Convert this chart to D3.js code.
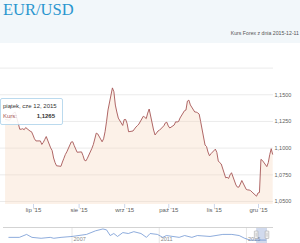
<!DOCTYPE html>
<html>
<head>
<meta charset="utf-8">
<script src="https://cdn.jsdelivr.net/npm/d3@7"></script>
<style>
  body { margin: 0; background: #fff; }
  svg { display: block; font-family: "Liberation Sans", Arial, sans-serif; }
</style>
</head>
<body>
<div id="chart"></div>
<script>
// kurs dzienny EUR/USD, 2015
const dates = [
  "06-12","06-15","06-16","06-17","06-18","06-19","06-22","06-23","06-24","06-25","06-26","06-29","06-30",
  "07-01","07-02","07-03","07-06","07-07","07-08","07-09","07-10","07-13","07-14","07-15","07-16","07-17",
  "07-20","07-21","07-22","07-23","07-24","07-27","07-28","07-29","07-30","07-31",
  "08-03","08-04","08-05","08-06","08-07","08-10","08-11","08-12","08-13","08-14","08-17","08-18","08-19",
  "08-20","08-21","08-24","08-25","08-26","08-27","08-28","08-31",
  "09-01","09-02","09-03","09-04","09-07","09-08","09-09","09-10","09-11","09-14","09-15","09-16","09-17",
  "09-18","09-21","09-22","09-23","09-24","09-25","09-28","09-29","09-30",
  "10-01","10-02","10-05","10-06","10-07","10-08","10-09","10-12","10-13","10-14","10-15","10-16","10-19",
  "10-20","10-21","10-22","10-23","10-26","10-27","10-28","10-29","10-30",
  "11-02","11-03","11-04","11-05","11-06","11-09","11-10","11-11","11-12","11-13","11-16","11-17","11-18",
  "11-19","11-20","11-23","11-24","11-25","11-26","11-27","11-30",
  "12-01","12-02","12-03","12-04","12-07","12-08","12-09","12-10","12-11"
];
const kurs = [
  1.1265,1.1257,1.1275,1.1310,1.1328,1.1332,1.1172,1.1173,1.1177,1.1168,1.1188,1.1155,1.1149,
  1.1118,1.1083,1.1063,1.1063,1.1030,1.1049,1.1077,1.1104,1.0998,1.0973,1.0903,1.0860,1.0830,
  1.0825,1.0865,1.0900,1.0936,1.0961,1.1053,1.1055,1.1020,1.0988,1.0957,
  1.0960,1.0926,1.0882,1.0876,1.0901,1.0992,1.1028,1.1081,1.1136,1.1129,1.1055,1.1083,1.1150,
  1.1245,1.1353,1.1560,1.1524,1.1399,1.1334,1.1277,1.1208,
  1.1263,1.1264,1.1226,1.1149,1.1156,1.1175,1.1193,1.1206,1.1221,1.1294,1.1285,1.1272,1.1324,
  1.1362,1.1165,1.1119,1.1137,1.1156,1.1163,1.1205,1.1232,1.1238,
  1.1203,1.1184,1.1212,1.1242,1.1240,1.1245,1.1278,1.1346,1.1352,1.1436,1.1445,1.1400,1.1334,
  1.1333,1.1326,1.1314,1.1244,1.1024,1.1011,1.0959,1.0924,1.0943,
  1.0986,1.0956,1.0875,1.0859,1.0847,1.0718,1.0722,1.0711,1.0745,1.0765,1.0650,1.0630,1.0630,
  1.0659,1.0692,1.0609,1.0604,1.0603,1.0597,1.0583,1.0545,
  1.0575,1.0580,1.0890,1.0880,1.0822,1.0860,1.0935,1.0990,1.0935
];

// nawigator (cala historia)
const navDates = ["2004-02","2004-08","2004-12","2005-03","2005-08","2006-01","2006-03","2006-07",
  "2007-01","2007-09","2008-02","2008-06","2008-08","2008-10","2008-12","2009-02","2009-05","2009-08",
  "2009-11","2010-03","2010-06","2010-08","2010-12","2011-03","2011-05","2011-12","2012-03","2012-07",
  "2012-10","2013-05","2013-12","2014-05","2014-09","2014-12","2015-03","2015-08","2015-12"];
const navValues = [1.21,1.21,1.34,1.21,1.17,1.21,1.17,1.21,
  1.25,1.34,1.50,1.58,1.54,1.29,1.38,1.25,1.42,1.38,
  1.46,1.38,1.21,1.38,1.34,1.21,1.29,1.21,1.29,1.21,
  1.29,1.25,1.34,1.34,1.29,1.17,1.09,1.09,1.09];
const navTicks = ["2007","2011","2015"];

const yTicks = [1.05, 1.075, 1.1, 1.125, 1.15, 1.175];
const shortMonths = ["sty","lut","mar","kwi","maj","cze","lip","sie","wrz","paź","lis","gru"];
const days = ["niedziela","poniedziałek","wtorek","środa","czwartek","piątek","sobota"];

const width = 300, height = 243;
const plotRight = 273, plotBottom = 204;

const plLocale = d3.timeFormatLocale({
  dateTime: "%A, %e %B %Y, %X", date: "%d.%m.%Y", time: "%H:%M:%S", periods: ["AM", "PM"],
  days: days, shortDays: ["niedz.","pon.","wt.","śr.","czw.","pt.","sob."],
  months: shortMonths, shortMonths: shortMonths
});
const plNum = d3.formatLocale({decimal: ",", thousands: " ", grouping: [3], currency: ["", " zł"]});
const fmtKurs = plNum.format(".4f");

const data = dates.map((d, i) => ({date: new Date("2015-" + d + "T00:00:00"), value: kurs[i]}));
const navData = navDates.map((d, i) => ({date: new Date(d + "-01T00:00:00"), value: navValues[i]}));

const svg = d3.select("#chart").append("svg")
    .attr("width", width)
    .attr("height", height);

// naglowek
svg.append("rect").attr("width", width).attr("height", 43).attr("fill", "#f2f7fa");
svg.append("text")
    .attr("x", 3).attr("y", 15)
    .style("font-family", "'Liberation Serif', 'Times New Roman', serif")
    .style("font-size", "16.5px")
    .attr("fill", "#2b96cf")
    .text("EUR/USD");
svg.append("text")
    .attr("x", 299).attr("y", 35)
    .attr("text-anchor", "end")
    .style("font-size", "5.2px")
    .attr("fill", "#555")
    .text("Kurs Forex z dnia 2015-12-11");

// skale
const x = d3.scaleTime()
    .domain([new Date("2015-06-11T00:00:00"), new Date("2015-12-11T00:00:00")])
    .range([3.6, 272.7]);
const y = d3.scaleLinear()
    .domain([1.05, 1.175])
    .range([201, 67.6]);

// siatka + etykiety osi Y
const yAxis = svg.append("g")
    .attr("transform", "translate(" + plotRight + ",0)")
    .call(d3.axisRight(y).tickValues(yTicks).tickSize(-plotRight).tickPadding(1.5)
        .tickFormat(d => d > 1.16 ? "" : fmtKurs(d)));
yAxis.select(".domain").remove();
yAxis.selectAll("line").attr("stroke", "#e6e6e6").attr("stroke-width", 0.8);
yAxis.selectAll("text").style("font-size", "5.5px").attr("fill", "#606060");

// wykres powierzchniowy
const area = d3.area()
    .x(d => x(d.date))
    .y0(plotBottom)
    .y1(d => y(d.value));
const line = d3.line()
    .x(d => x(d.date))
    .y(d => y(d.value));

svg.append("path")
    .datum(data)
    .attr("d", area)
    .attr("fill", "#f7d6bd")
    .attr("fill-opacity", 0.35);
svg.append("path")
    .datum(data)
    .attr("d", line)
    .attr("fill", "none")
    .attr("stroke", "#a65656")
    .attr("stroke-width", 0.9)
    .attr("stroke-linejoin", "round");

// os X
const xAxis = svg.append("g")
    .attr("transform", "translate(0," + plotBottom + ")")
    .call(d3.axisBottom(x).ticks(d3.timeMonth.every(1)).tickSize(4).tickPadding(0)
        .tickFormat(plLocale.format("%b '%y")));
xAxis.select(".domain").remove();
xAxis.selectAll("line").attr("stroke", "#ccd6eb");
xAxis.selectAll("text").style("font-size", "6px").attr("fill", "#606060");

// nawigator
const navTop = 227.5;
const navX = d3.scaleTime()
    .domain([new Date("2003-11-10T00:00:00"), data[data.length - 1].date])
    .range([3.5, 267]);
const navY = d3.scaleLinear().domain([1.05, 1.6]).range([241, 228.5]);

navTicks.forEach(t => {
  const tx = navX(new Date(t + "-01-01T00:00:00"));
  svg.append("line")
      .attr("x1", tx).attr("x2", tx).attr("y1", navTop).attr("y2", height)
      .attr("stroke", "#e6e6e6");
  svg.append("text")
      .attr("x", tx + 1.5).attr("y", 240.5)
      .style("font-size", "5.5px")
      .attr("fill", "#888")
      .text(t);
});

svg.append("path")
    .datum(navData)
    .attr("d", d3.line().x(d => navX(d.date)).y(d => navY(d.value)))
    .attr("fill", "none")
    .attr("stroke", "#7197d3")
    .attr("stroke-width", 0.8);

const m0 = navX(data[0].date), m1 = navX(data[data.length - 1].date);
svg.append("rect")
    .attr("x", m0).attr("y", navTop)
    .attr("width", m1 - m0).attr("height", height - navTop)
    .attr("fill", "rgba(102,133,194,0.3)");
svg.append("line")
    .attr("x1", 3).attr("x2", plotRight).attr("y1", navTop).attr("y2", navTop)
    .attr("stroke", "#c8c8c8").attr("stroke-width", 0.8);

[m0, m1].forEach(hx => {
  svg.append("rect")
      .attr("x", hx - 1.8).attr("y", 231).attr("width", 3.6).attr("height", 7.5)
      .attr("rx", 0.5)
      .attr("fill", "#f2f2f2").attr("stroke", "#999").attr("stroke-width", 0.5);
  svg.append("line")
      .attr("x1", hx).attr("x2", hx).attr("y1", 232.8).attr("y2", 236.7)
      .attr("stroke", "#999").attr("stroke-width", 0.5);
});

// tooltip dla pierwszego punktu
const tip = data[0];
const tg = svg.append("g");
tg.append("rect")
    .attr("x", 0.5).attr("y", 98.5).attr("width", 62).attr("height", 26)
    .attr("rx", 1.5)
    .attr("fill", "rgba(255,255,255,0.88)")
    .attr("stroke", "#a9d0ea").attr("stroke-width", 0.8);
tg.append("text")
    .attr("x", 3).attr("y", 107.5)
    .style("font-size", "6px").attr("fill", "#333")
    .text(plLocale.format("%A, %b %d, %Y")(tip.date));
tg.append("text")
    .attr("x", 3).attr("y", 118)
    .style("font-size", "6px").attr("fill", "#a65656")
    .text("Kurs:");
tg.append("text")
    .attr("x", 55).attr("y", 118)
    .attr("text-anchor", "end")
    .style("font-size", "6px").style("font-weight", "bold").attr("fill", "#333")
    .text(fmtKurs(tip.value));
</script>
</body>
</html>
